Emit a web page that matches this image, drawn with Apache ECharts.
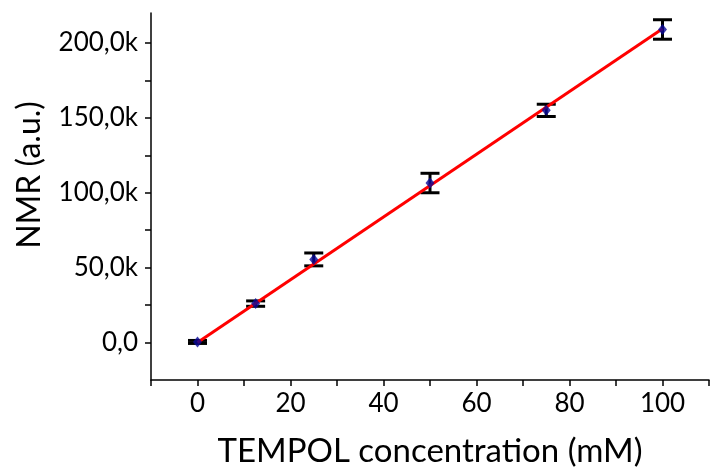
<!DOCTYPE html>
<html>
<head>
<meta charset="utf-8">
<script src="https://cdn.jsdelivr.net/npm/echarts@6/dist/echarts.min.js"></script>
<style>
  html, body { margin: 0; padding: 0; background: #fff; }
  #chart { width: 718px; height: 473px; }
</style>
</head>
<body>
<div id="chart"></div>
<script>
// data
const concentration = [0, 12.5, 25, 50, 75, 100];          // mM
const nmrSignal = [400, 26000, 55500, 106500, 155000, 209000]; // a.u.
const nmrError = [1000, 1800, 4300, 6500, 4100, 6500];
const fitX = [0, 100];
const fitY = [0, 209500];
const xTickLabels = [0, 20, 40, 60, 80, 100];
const xTickMarks = [-10, 0, 10, 20, 30, 40, 50, 60, 70, 80, 90, 100, 110];
const yTickLabels = [0, 50000, 100000, 150000, 200000];
const yTickMarks = [0, 25000, 50000, 75000, 100000, 125000, 150000, 175000, 200000];

const FONT = 'Lato';

document.addEventListener('DOMContentLoaded', function () {
    const chart = echarts.init(document.getElementById('chart'));

    const points = concentration.map((x, i) => [x, nmrSignal[i]]);
    const errData = concentration.map((x, i) => [x, nmrSignal[i] - nmrError[i], nmrSignal[i] + nmrError[i]]);

    const option = {
        animation: false,
        textStyle: { fontFamily: FONT },
        grid: { left: 151, right: 9, top: 13, bottom: 93, outerBoundsMode: 'none', containLabel: false },
        // y axis title sits a bit above the axis middle in the original
        graphic: [
            {
                type: 'text',
                rotation: Math.PI / 2,
                x: 30,
                y: 175,
                style: {
                    text: 'NMR (a.u.)',
                    font: '32px ' + FONT,
                    fill: '#000',
                    textAlign: 'center',
                    textVerticalAlign: 'middle'
                }
            }
        ],
        xAxis: {
            type: 'value',
            min: -10,
            max: 110,
            name: 'TEMPOL concentration (mM)',
            nameLocation: 'middle',
            nameGap: 55,
            nameTextStyle: { fontSize: 33, color: '#000', fontFamily: FONT },
            axisLine: { onZero: false, lineStyle: { color: '#000', width: 1.5 } },
            axisTick: { show: true, length: 6, customValues: xTickMarks, lineStyle: { color: '#000', width: 1.5 } },
            axisLabel: { customValues: xTickLabels, fontSize: 26, color: '#000', margin: 11, fontFamily: FONT },
            splitLine: { show: false }
        },
        yAxis: {
            type: 'value',
            min: -25000,
            max: 220000,
            axisLine: { show: true, onZero: false, lineStyle: { color: '#000', width: 1.5 } },
            axisTick: { show: true, length: 6, customValues: yTickMarks, lineStyle: { color: '#000', width: 1.5 } },
            axisLabel: {
                customValues: yTickLabels,
                fontSize: 26,
                color: '#000',
                margin: 13,
                fontFamily: FONT,
                formatter: function (v) {
                    if (v === 0) return '0,0';
                    return (v / 1000).toFixed(1).replace('.', ',') + 'k';
                }
            },
            splitLine: { show: false }
        },
        series: [
            {
                name: 'fit',
                type: 'line',
                data: fitX.map((x, i) => [x, fitY[i]]),
                symbol: 'none',
                lineStyle: { color: '#ff0000', width: 3 },
                z: 3
            },
            {
                name: 'error',
                type: 'custom',
                data: errData,
                renderItem: function (params, api) {
                    const x = api.value(0);
                    const lo = api.coord([x, api.value(1)]);
                    const hi = api.coord([x, api.value(2)]);
                    const hw = 9.5;
                    const style = { stroke: '#000', lineWidth: 3 };
                    return {
                        type: 'group',
                        children: [
                            { type: 'line', shape: { x1: lo[0], y1: lo[1], x2: hi[0], y2: hi[1] }, style: style },
                            { type: 'line', shape: { x1: lo[0] - hw, y1: lo[1], x2: lo[0] + hw, y2: lo[1] }, style: style },
                            { type: 'line', shape: { x1: hi[0] - hw, y1: hi[1], x2: hi[0] + hw, y2: hi[1] }, style: style }
                        ]
                    };
                },
                z: 2
            },
            {
                name: 'data',
                type: 'scatter',
                data: points,
                symbol: 'diamond',
                symbolSize: [9, 11],
                itemStyle: { color: '#0a0a9a' },
                z: 4
            }
        ]
    };
    chart.setOption(option);
});
</script>
</body>
</html>
